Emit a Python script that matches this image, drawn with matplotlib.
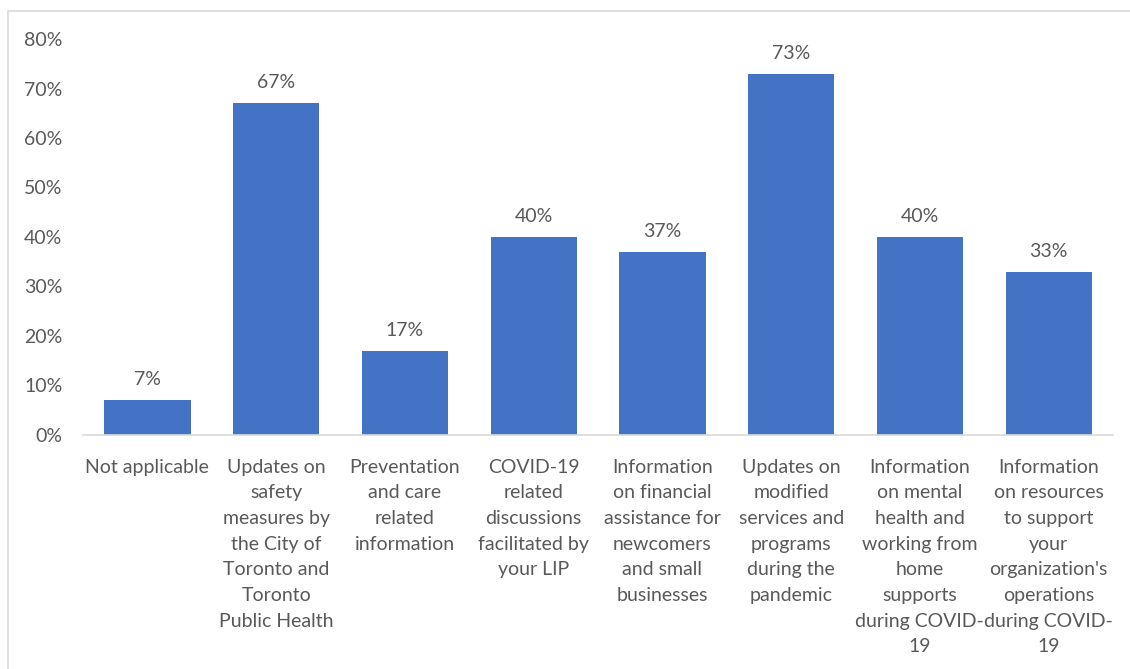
import matplotlib.pyplot as plt
from matplotlib.patches import Rectangle

categories = [
    'Not applicable',
    'Updates on\nsafety\nmeasures by\nthe City of\nToronto and\nToronto\nPublic Health',
    'Preventation\nand care\nrelated\ninformation',
    'COVID-19\nrelated\ndiscussions\nfacilitated by\nyour LIP',
    'Information\non financial\nassistance for\nnewcomers\nand small\nbusinesses',
    'Updates on\nmodified\nservices and\nprograms\nduring the\npandemic',
    'Information\non mental\nhealth and\nworking from\nhome\nsupports\nduring COVID-\n19',
    'Information\non resources\nto support\nyour\norganization\'s\noperations\nduring COVID-\n19',
]
values = [7, 67, 17, 40, 37, 73, 40, 33]
yticks = [0, 10, 20, 30, 40, 50, 60, 70, 80]

bar_color = '#4472C4'
text_color = '#595959'
fs = 14

plt.rcParams['font.family'] = ['Lato', 'DejaVu Sans']

fig = plt.figure(figsize=(11.3, 6.69), dpi=100)
# light chart-area frame
fig.patches.append(Rectangle((8 / 1130, -0.1), 1.2, 1 - 11 / 669 + 0.1,
                             transform=fig.transFigure, fill=False,
                             edgecolor='#D9D9D9', linewidth=1.2))

ax = fig.add_axes([0.0735, 0.3498, 0.9115, 0.5919])
x = list(range(len(values)))
bars = ax.bar(x, values, width=0.67, color=bar_color)

for xi, v in zip(x, values):
    ax.text(xi, v + 2.4, '{}%'.format(v), ha='center', va='bottom',
            fontsize=fs, color=text_color)

ax.set_ylim(0, 80)
ax.set_xlim(-0.5, len(values) - 0.5)
ax.set_yticks(yticks)
ax.set_yticklabels(['{}%'.format(t) for t in yticks], fontsize=fs, color=text_color)
ax.set_xticks(x)
ax.set_xticklabels(categories, fontsize=fs, color=text_color, linespacing=1.62,
                   va='top')

for side in ['top', 'right', 'left']:
    ax.spines[side].set_visible(False)
ax.spines['bottom'].set_color('#D9D9D9')
ax.spines['bottom'].set_linewidth(1.2)
ax.tick_params(axis='both', length=0)
ax.tick_params(axis='x', pad=17)
ax.tick_params(axis='y', pad=15)

fig.savefig('out.png', dpi=100)
